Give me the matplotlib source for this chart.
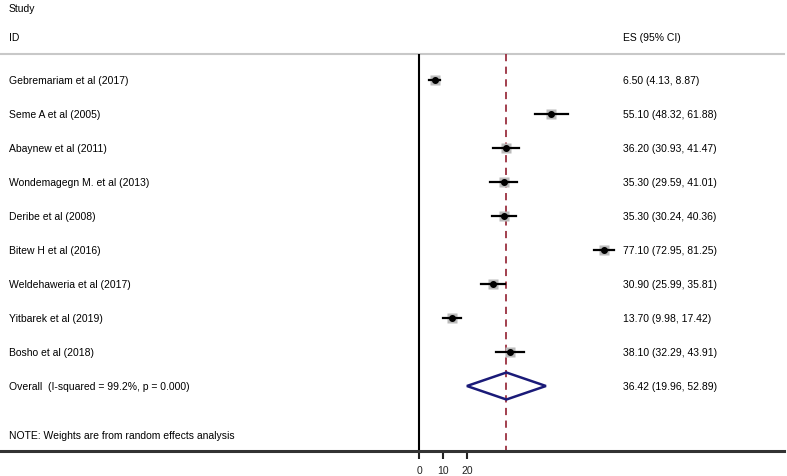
import matplotlib
matplotlib.use("Agg")
import matplotlib.pyplot as plt
from matplotlib.patches import Polygon
import matplotlib.transforms as mtransforms

plt.rcParams['font.family'] = ['Liberation Sans', 'DejaVu Sans']

studies = ["Gebremariam et al (2017)", "Seme A et al (2005)", "Abaynew et al (2011)",
           "Wondemagegn M. et al (2013)", "Deribe et al (2008)", "Bitew H et al (2016)",
           "Weldehaweria et al (2017)", "Yitbarek et al (2019)", "Bosho et al (2018)"]
es = [6.50, 55.10, 36.20, 35.30, 35.30, 77.10, 30.90, 13.70, 38.10]
lo = [4.13, 48.32, 30.93, 29.59, 30.24, 72.95, 25.99, 9.98, 32.29]
hi = [8.87, 61.88, 41.47, 41.01, 40.36, 81.25, 35.81, 17.42, 43.91]
overall_label = "Overall  (I-squared = 99.2%, p = 0.000)"
overall = (36.42, 19.96, 52.89)
xticks = [0, 10, 20]
note = "NOTE: Weights are from random effects analysis"

W, H = 787, 477
fig = plt.figure(figsize=(W / 100, H / 100), dpi=100)
axis_y_px = 452
ax = fig.add_axes([0, (H - axis_y_px) / H, 784 / W, axis_y_px / H])

x0_px, ppu = 419, 2.4
ax.set_xlim(-x0_px / ppu, (784 - x0_px) / ppu)
row0_px, row_h = 81, 34
ax.set_ylim((axis_y_px - row0_px) / row_h, -row0_px / row_h)

for s in ['top', 'right', 'left']:
    ax.spines[s].set_visible(False)
ax.spines['bottom'].set_linewidth(2.2)
ax.spines['bottom'].set_color('#333333')
ax.set_yticks([])
ax.set_xticks(xticks)
ax.tick_params(axis='x', direction='out', length=6, width=1.5, labelsize=7.5, pad=4, colors='#222222')

header_y = (55 - row0_px) / row_h
bottom_y = (axis_y_px - row0_px) / row_h
ax.axhline(header_y, color='#c8c8c8', lw=1.5, clip_on=False)
ax.vlines(0, header_y, bottom_y, color='black', lw=1.5)
ax.vlines(overall[0], header_y, bottom_y, color='#9b3040', lw=1.3, linestyles=(0, (4, 3)))

n = len(studies)
rows = list(range(n))
for i in rows:
    ax.plot([lo[i], hi[i]], [i, i], color='black', lw=1.6, zorder=3)
    ax.plot(es[i], i, marker='s', ms=7.5, color='#bbbbbb', zorder=2, mec='none')
    ax.plot(es[i], i, marker='o', ms=4, color='black', zorder=4)

orow = n
dh = 13.5 / row_h
diamond = Polygon([(overall[1], orow), (overall[0], orow - dh), (overall[2], orow), (overall[0], orow + dh)],
                  closed=True, fill=False, edgecolor='#1a1a78', lw=1.8, zorder=3)
ax.add_patch(diamond)

trans = mtransforms.blended_transform_factory(fig.transFigure, ax.transData)
fs = 7.5
lx = 9 / W
rx = 623 / W
ax.text(lx, (9 - row0_px) / row_h, "Study", transform=trans, fontsize=fs, va='center', ha='left')
ax.text(lx, (38 - row0_px) / row_h, "ID", transform=trans, fontsize=fs, va='center', ha='left')
ax.text(rx, (38 - row0_px) / row_h, "ES (95% CI)", transform=trans, fontsize=fs, va='center', ha='left')
for i in rows:
    ax.text(lx, i, studies[i], transform=trans, fontsize=fs, va='center', ha='left')
    ax.text(rx, i, f"{es[i]:.2f} ({lo[i]:.2f}, {hi[i]:.2f})", transform=trans, fontsize=fs, va='center', ha='left')
ax.text(lx, orow, overall_label, transform=trans, fontsize=fs, va='center', ha='left')
ax.text(rx, orow, f"{overall[0]:.2f} ({overall[1]:.2f}, {overall[2]:.2f})", transform=trans, fontsize=fs, va='center', ha='left')
ax.text(lx, (436 - row0_px) / row_h, note, transform=trans, fontsize=fs, va='center', ha='left')

fig.savefig("out.png", dpi=100)
